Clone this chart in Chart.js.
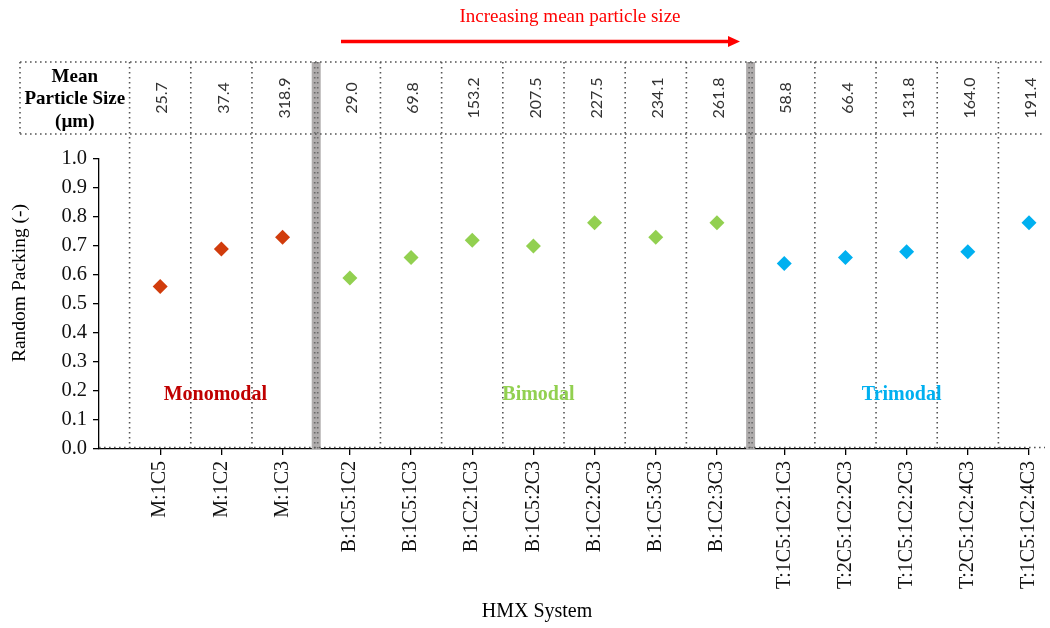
<!DOCTYPE html>
<html>
<head>
<meta charset="utf-8">
<title>HMX random packing</title>
<script src="https://cdn.jsdelivr.net/npm/chart.js@4/dist/chart.umd.min.js"></script>
<style>
  body { margin: 0; background: #fff; }
</style>
</head>
<body>
<canvas id="myChart" width="1050" height="628"></canvas>
<script>
const systems = ['M:1C5', 'M:1C2', 'M:1C3',
    'B:1C5:1C2', 'B:1C5:1C3', 'B:1C2:1C3', 'B:1C5:2C3', 'B:1C2:2C3', 'B:1C5:3C3', 'B:1C2:3C3',
    'T:1C5:1C2:1C3', 'T:2C5:1C2:2C3', 'T:1C5:1C2:2C3', 'T:2C5:1C2:4C3', 'T:1C5:1C2:4C3'];
const meanSize = ['25.7', '37.4', '318.9',
    '29.0', '69.8', '153.2', '207.5', '227.5', '234.1', '261.8',
    '58.8', '66.4', '131.8', '164.0', '191.4'];
const packing = [0.56, 0.69, 0.73,
    0.59, 0.66, 0.72, 0.70, 0.78, 0.73, 0.78,
    0.64, 0.66, 0.68, 0.68, 0.78];
const groups = ['Monomodal', 'Bimodal', 'Trimodal'];
const groupSize = [3, 7, 5];
const groupColor = ['#d13c0c', '#92d050', '#00b0f0'];
const groupTextColor = ['#c00000', '#92d050', '#00b0f0'];

const serif = "'Liberation Serif', 'Times New Roman', serif";

// x position of every system: one unit apart, a small extra gap between groups
const xPos = [];
const groupOfPoint = [];
let k = 0;
groupSize.forEach((n, g) => {
    for (let j = 0; j < n; j++) {
        xPos.push(k + 1 + 0.1 * g);
        groupOfPoint.push(g);
        k++;
    }
});

// dividers: thin dotted between systems, thick grey between groups
const thinDividers = [0.5];
const groupDividers = [];
for (let i = 1; i < xPos.length; i++) {
    const mid = (xPos[i - 1] + xPos[i]) / 2;
    if (groupOfPoint[i] !== groupOfPoint[i - 1]) groupDividers.push(mid);
    else thinDividers.push(mid);
}

const datasets = groups.map((name, g) => ({
    label: name,
    data: xPos.map((x, i) => ({ x: x, y: packing[i] })).filter((p, i) => groupOfPoint[i] === g),
    pointStyle: 'rectRot',
    pointRadius: 7.5,
    pointHoverRadius: 7.5,
    backgroundColor: groupColor[g],
    borderColor: groupColor[g],
    borderWidth: 0,
    showLine: false,
    clip: false
}));

const dotted = (ctx, x1, y1, x2, y2, color) => {
    ctx.save();
    ctx.strokeStyle = color || '#555';
    ctx.lineWidth = 1.6;
    ctx.setLineDash([1.6, 3.4]);
    ctx.beginPath();
    ctx.moveTo(x1, y1);
    ctx.lineTo(x2, y2);
    ctx.stroke();
    ctx.restore();
};

const TABLE_TOP = 62, TABLE_BOTTOM = 134, TABLE_LEFT = 20, TABLE_RIGHT = 1045;

const decorations = {
    id: 'decorations',
    beforeDatasetsDraw(chart) {
        const ctx = chart.ctx;
        const xs = chart.scales.x;
        const area = chart.chartArea;

        // grey group separators
        groupDividers.forEach(v => {
            const px = xs.getPixelForValue(v);
            ctx.fillStyle = '#b0adad';
            ctx.fillRect(px - 4.5, TABLE_TOP, 9, area.bottom - TABLE_TOP);
            dotted(ctx, px - 1.5, TABLE_TOP, px - 1.5, area.bottom, '#6a6a6a');
            dotted(ctx, px + 1.5, TABLE_TOP, px + 1.5, area.bottom, '#6a6a6a');
        });

        // thin dotted dividers through table and plot
        thinDividers.forEach(v => {
            const px = xs.getPixelForValue(v);
            dotted(ctx, px, TABLE_TOP, px, area.bottom);
        });

        // table frame
        dotted(ctx, TABLE_LEFT, TABLE_TOP, TABLE_RIGHT, TABLE_TOP);
        dotted(ctx, TABLE_LEFT, TABLE_BOTTOM, TABLE_RIGHT, TABLE_BOTTOM);
        dotted(ctx, TABLE_LEFT, TABLE_TOP, TABLE_LEFT, TABLE_BOTTOM);
        dotted(ctx, area.left, area.bottom - 1.5, TABLE_RIGHT, area.bottom - 1.5);

        // header cell
        const headX = (TABLE_LEFT + xs.getPixelForValue(thinDividers[0])) / 2;
        ctx.save();
        ctx.fillStyle = '#000';
        ctx.font = 'bold 19px ' + serif;
        ctx.textAlign = 'center';
        ctx.textBaseline = 'middle';
        ctx.fillText('Mean', headX, 77);
        ctx.fillText('Particle Size', headX, 99);
        ctx.fillText('(\u00b5m)', headX, 122);
        ctx.restore();

        // mean particle size values, rotated
        ctx.save();
        ctx.fillStyle = '#333';
        ctx.font = "16px Lato, 'Liberation Sans', sans-serif";
        ctx.textAlign = 'center';
        ctx.textBaseline = 'middle';
        xPos.forEach((v, i) => {
            ctx.save();
            ctx.translate(xs.getPixelForValue(v) + 2, (TABLE_TOP + TABLE_BOTTOM) / 2);
            ctx.rotate(-Math.PI / 2);
            ctx.fillText(meanSize[i], 0, 0);
            ctx.restore();
        });
        ctx.restore();

        // arrow
        ctx.save();
        ctx.strokeStyle = '#ff0000';
        ctx.fillStyle = '#ff0000';
        ctx.lineWidth = 3.5;
        ctx.beginPath();
        ctx.moveTo(341, 41.5);
        ctx.lineTo(730, 41.5);
        ctx.stroke();
        ctx.beginPath();
        ctx.moveTo(740, 41.5);
        ctx.lineTo(728, 36);
        ctx.lineTo(728, 47);
        ctx.closePath();
        ctx.fill();
        ctx.font = '19px ' + serif;
        ctx.textAlign = 'center';
        ctx.textBaseline = 'middle';
        ctx.fillText('Increasing mean particle size', 570, 17);
        ctx.restore();

        // group names, centred under each group
        const nudge = [-6, 5, -5];
        ctx.save();
        ctx.font = 'bold 20px ' + serif;
        ctx.textAlign = 'center';
        ctx.textBaseline = 'middle';
        let start = 0;
        groups.forEach((name, g) => {
            const first = xPos[start], last = xPos[start + groupSize[g] - 1];
            const cx = xs.getPixelForValue((first + last) / 2);
            ctx.fillStyle = groupTextColor[g];
            ctx.fillText(name, cx + nudge[g], 395);
            start += groupSize[g];
        });
        ctx.restore();

        // y axis title
        ctx.save();
        ctx.fillStyle = '#000';
        ctx.font = '19.5px ' + serif;
        ctx.textAlign = 'center';
        ctx.textBaseline = 'middle';
        ctx.translate(20, 283);
        ctx.rotate(-Math.PI / 2);
        ctx.fillText('Random Packing (-)', 0, 0);
        ctx.restore();

        // x axis title
        ctx.save();
        ctx.fillStyle = '#000';
        ctx.font = '20px ' + serif;
        ctx.textAlign = 'center';
        ctx.textBaseline = 'middle';
        ctx.fillText('HMX System', 537, 612);
        ctx.restore();
    }
};

const ctx = document.getElementById('myChart').getContext('2d');
const myChart = new Chart(ctx, {
    type: 'scatter',
    data: { datasets: datasets },
    options: {
        responsive: false,
        animation: false,
        layout: { padding: { top: 159, right: 21, left: 0, bottom: 0 } },
        plugins: {
            legend: { display: false },
            tooltip: { enabled: false }
        },
        scales: {
            x: {
                type: 'linear',
                min: 0,
                max: xPos[xPos.length - 1],
                afterBuildTicks: axis => {
                    axis.ticks = xPos.map(v => ({ value: v }));
                },
                afterFit: axis => {
                    axis.height = 628 - 449;
                    axis.paddingLeft = 0;
                    axis.paddingRight = 0;
                },
                border: { display: true, color: '#000', width: 1.3 },
                grid: { drawOnChartArea: false, drawTicks: true, tickLength: 6, color: '#000', lineWidth: 1.3 },
                ticks: {
                    autoSkip: false,
                    minRotation: 90,
                    maxRotation: 90,
                    padding: 6,
                    color: '#111',
                    font: { family: serif, size: 20 },
                    callback: (value, index) => systems[index]
                }
            },
            y: {
                min: 0,
                max: 1,
                afterFit: axis => {
                    axis.width = 99;
                    axis.paddingTop = 0;
                    axis.paddingBottom = 0;
                },
                border: { display: true, color: '#000', width: 1.3 },
                grid: { drawOnChartArea: false, drawTicks: true, tickLength: 6, color: '#000', lineWidth: 1.3 },
                ticks: {
                    stepSize: 0.1,
                    padding: 6,
                    color: '#111',
                    font: { family: serif, size: 20.5 },
                    callback: v => v.toFixed(1)
                }
            }
        }
    },
    plugins: [decorations]
});
</script>
</body>
</html>
